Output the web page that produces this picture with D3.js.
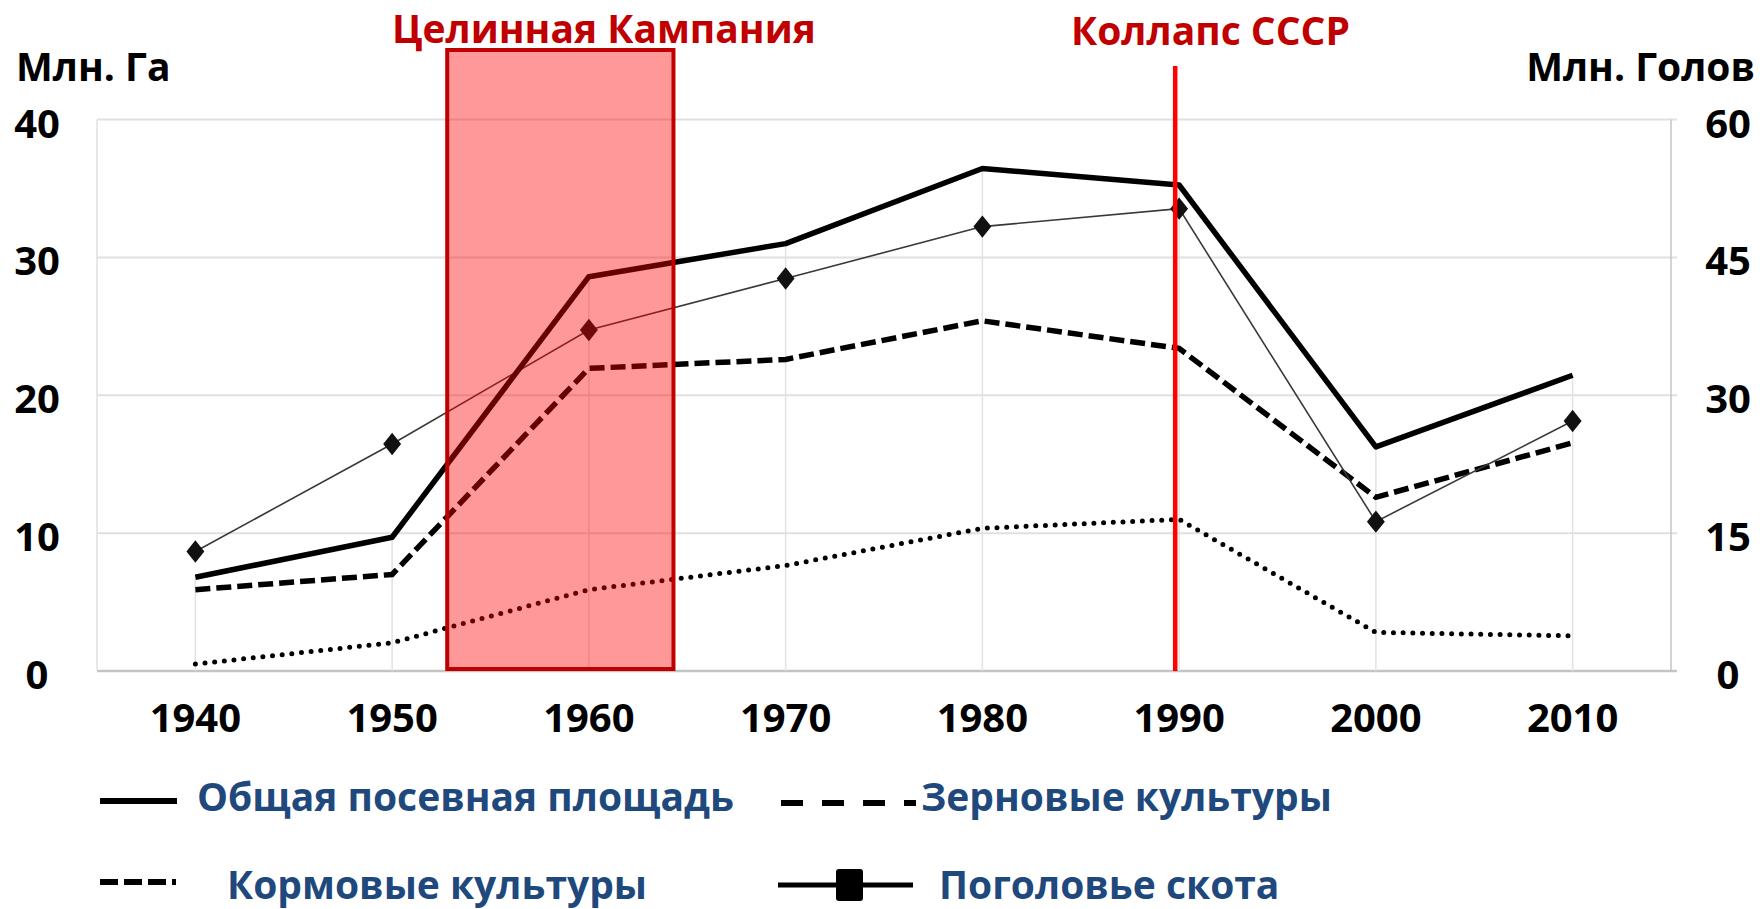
<!DOCTYPE html>
<html>
<head>
<meta charset="utf-8">
<script src="https://cdn.jsdelivr.net/npm/d3@7"></script>
<style>
    body { margin: 0; background: #fff; }
    svg text { font-family: "Open Sans", sans-serif; font-weight: 700; }
</style>
</head>
<body>
<svg id="chart" width="1762" height="909"></svg>
<script>
// values
const years = [1940, 1950, 1960, 1970, 1980, 1990, 2000, 2010];
const totalArea = [6.8, 9.7, 28.6, 31.0, 36.45, 35.25, 16.25, 21.45];   // Млн. Га
const grainArea = [5.9, 7.0, 21.95, 22.6, 25.4, 23.4, 12.6, 16.55];     // Млн. Га
const fodderArea = [0.5, 2.05, 5.9, 7.65, 10.35, 11.0, 2.8, 2.55];      // Млн. Га
const livestock = [13.0, 24.7, 37.1, 42.7, 48.35, 50.3, 16.25, 27.2];   // Млн. Голов
const leftTicks = [0, 10, 20, 30, 40];
const rightTicks = [0, 15, 30, 45, 60];
const campaignYears = [1952.8, 1964.3];
const collapseYear = 1989.8;

const legendItems = ["Общая посевная площадь", "Зерновые культуры", "Кормовые культуры", "Поголовье скота"];

var svg = d3.select("#chart");

// plot area (window.top is taken, so prefix the names)
var plotLeft = 97, plotRight = 1671, plotTop = 119.5, plotBottom = 671;

let x = d3.scalePoint().domain(years).range([plotLeft, plotRight]).padding(0.5);
let xYear = d3.scaleLinear().domain([years[0], years[years.length - 1]])
    .range([x(years[0]), x(years[years.length - 1])]);
let yL = d3.scaleLinear().domain([0, 40]).range([plotBottom, plotTop]);
let yR = d3.scaleLinear().domain([0, 60]).range([plotBottom, plotTop]);

// Grid lines
leftTicks.forEach(t =>
    svg.append("line")
        .attr("x1", plotLeft).attr("x2", plotRight + 6)
        .attr("y1", yL(t)).attr("y2", yL(t))
        .attr("stroke", t === 0 ? "#c4c4c4" : "#e0e0e0")
        .attr("stroke-width", t === 0 ? 2.5 : 2)
);
svg.append("line")
    .attr("x1", plotLeft).attr("x2", plotLeft)
    .attr("y1", plotTop).attr("y2", plotBottom)
    .attr("stroke", "#e0e0e0").attr("stroke-width", 1.5);
svg.append("line")
    .attr("x1", plotRight).attr("x2", plotRight)
    .attr("y1", plotTop).attr("y2", plotBottom)
    .attr("stroke", "#c4c4c4").attr("stroke-width", 1.5);

// Drop lines from the top series down to the axis
years.forEach((yr, i) =>
    svg.append("line")
        .attr("x1", x(yr)).attr("x2", x(yr))
        .attr("y1", yL(totalArea[i])).attr("y2", plotBottom)
        .attr("stroke", "#e2e2e2").attr("stroke-width", 1.5)
);

// Tick labels
leftTicks.forEach(t =>
    svg.append("text")
        .attr("x", 37).attr("y", yL(t) + 18)
        .attr("text-anchor", "middle")
        .style("font-size", "40px")
        .text(t)
);
rightTicks.forEach(t =>
    svg.append("text")
        .attr("x", 1728).attr("y", yR(t) + 18)
        .attr("text-anchor", "middle")
        .style("font-size", "40px")
        .text(t)
);
years.forEach(yr =>
    svg.append("text")
        .attr("x", x(yr)).attr("y", 732)
        .attr("text-anchor", "middle")
        .style("font-size", "40px")
        .text(yr)
);

// Axis titles
svg.append("text").attr("x", 16).attr("y", 81).style("font-size", "39px").text("Млн. Га");
svg.append("text").attr("x", 1755).attr("y", 81).attr("text-anchor", "end")
    .style("font-size", "39px").text("Млн. Голов");

// Series lines
let lineL = d3.line().x((d, i) => x(years[i])).y(d => yL(d));
let lineR = d3.line().x((d, i) => x(years[i])).y(d => yR(d));

svg.append("path").datum(fodderArea).attr("d", lineL)
    .attr("fill", "none").attr("stroke", "#000")
    .attr("stroke-width", 5).attr("stroke-linecap", "round")
    .attr("stroke-dasharray", "0,9.7");

svg.append("path").datum(grainArea).attr("d", lineL)
    .attr("fill", "none").attr("stroke", "#000")
    .attr("stroke-width", 5.5).attr("stroke-dasharray", "15,6");

svg.append("path").datum(livestock).attr("d", lineR)
    .attr("fill", "none").attr("stroke", "#3a3a34")
    .attr("stroke-width", 1.6);

svg.append("path").datum(totalArea).attr("d", lineL)
    .attr("fill", "none").attr("stroke", "#000")
    .attr("stroke-width", 5.5).attr("stroke-linejoin", "round");

// Diamond markers
var diamond = {
    draw: function (ctx, size) {
        let h = Math.sqrt(size) * 0.56, w = h * 0.8;
        ctx.moveTo(0, -h); ctx.lineTo(w, 0); ctx.lineTo(0, h); ctx.lineTo(-w, 0); ctx.closePath();
    }
};
svg.selectAll("path.marker")
    .data(livestock)
    .enter().append("path")
    .attr("class", "marker")
    .attr("transform", (d, i) => "translate(" + x(years[i]) + "," + yR(d) + ")")
    .attr("d", d3.symbol().type(diamond).size(400))
    .attr("fill", "#111");

// Virgin lands campaign box
svg.append("rect")
    .attr("x", xYear(campaignYears[0])).attr("y", 50)
    .attr("width", xYear(campaignYears[1]) - xYear(campaignYears[0]))
    .attr("height", plotBottom - 2 - 50)
    .attr("fill", "#ff0000").attr("fill-opacity", 0.4)
    .attr("stroke", "#c00000").attr("stroke-width", 4);

svg.append("text").attr("x", 392).attr("y", 43)
    .style("font-size", "39px").attr("fill", "#c00000")
    .text("Целинная Кампания");

// USSR collapse line
svg.append("line")
    .attr("x1", xYear(collapseYear)).attr("x2", xYear(collapseYear))
    .attr("y1", 66).attr("y2", plotBottom)
    .attr("stroke", "#ff0000").attr("stroke-width", 4.5);

svg.append("text").attr("x", 1071).attr("y", 45)
    .style("font-size", "39px").attr("fill", "#c00000")
    .text("Коллапс СССР");

// Legend
var legendColor = "#1f497d";
// row 1
svg.append("line").attr("x1", 100).attr("x2", 177).attr("y1", 801).attr("y2", 801)
    .attr("stroke", "#000").attr("stroke-width", 6);
svg.append("text").attr("x", 197).attr("y", 811).style("font-size", "39px")
    .attr("fill", legendColor).text(legendItems[0]);

svg.append("line").attr("x1", 781).attr("x2", 916).attr("y1", 803).attr("y2", 803)
    .attr("stroke", "#000").attr("stroke-width", 6).attr("stroke-dasharray", "22,19");
svg.append("text").attr("x", 921).attr("y", 811).style("font-size", "39px")
    .attr("fill", legendColor).text(legendItems[1]);

// row 2
svg.append("line").attr("x1", 100).attr("x2", 176).attr("y1", 882).attr("y2", 882)
    .attr("stroke", "#000").attr("stroke-width", 6).attr("stroke-dasharray", "18,6");
svg.append("text").attr("x", 227).attr("y", 899).style("font-size", "39px")
    .attr("fill", legendColor).text(legendItems[2]);

svg.append("line").attr("x1", 778).attr("x2", 913).attr("y1", 885).attr("y2", 885)
    .attr("stroke", "#000").attr("stroke-width", 5);
svg.append("rect").attr("x", 836).attr("y", 869).attr("width", 27).attr("height", 32)
    .attr("rx", 3).attr("fill", "#000");
svg.append("text").attr("x", 939).attr("y", 899).style("font-size", "39px")
    .attr("fill", legendColor).text(legendItems[3]);
</script>
</body>
</html>
